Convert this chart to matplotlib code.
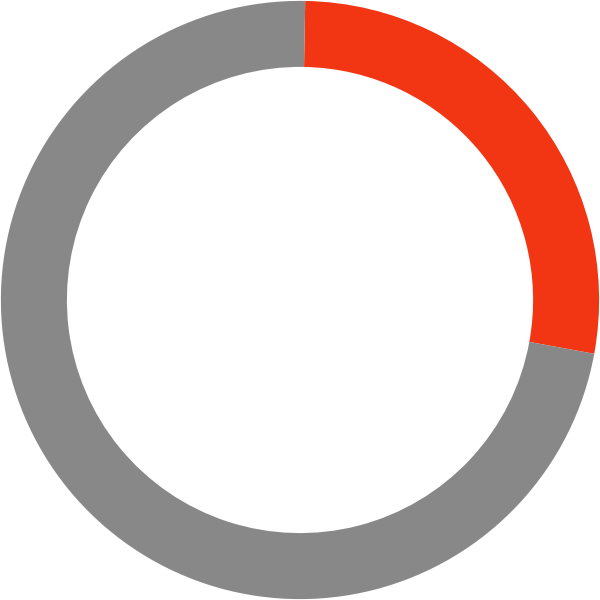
import matplotlib
matplotlib.use('Agg')
import matplotlib.pyplot as plt

# Data
labels = ['Part', 'Rest']
values = [27.6, 72.4]
colors = ['#f23512', '#888888']

fig = plt.figure(figsize=(6, 6), dpi=100)
ax = fig.add_axes([0, 0, 1, 1])

ax.pie(values, colors=colors, startangle=89, counterclock=False,
       radius=0.997, wedgeprops=dict(width=0.22, edgecolor='none'))

ax.set_xlim(-1, 1)
ax.set_ylim(-1, 1)
ax.set_aspect('equal')
ax.axis('off')

fig.savefig('out.png', dpi=100)
